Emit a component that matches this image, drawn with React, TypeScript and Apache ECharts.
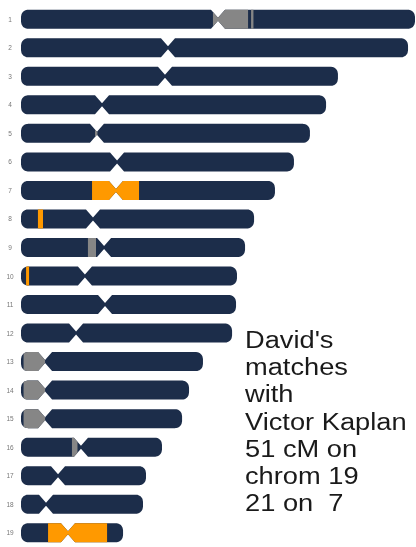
import React, { useEffect, useRef } from 'react';
import * as echarts from 'echarts';

// Chromosome names (rows, top to bottom)
const chromosomes = ['1', '2', '3', '4', '5', '6', '7', '8', '9', '10', '11', '12', '13', '14', '15', '16', '17', '18', '19'];
// Chromosome lengths (Mb)
const lengthsMb = [249.0, 244.6, 200.3, 192.8, 182.6, 172.5, 160.5, 147.3, 141.6, 136.5, 135.9, 133.4, 115.0, 106.2, 101.8, 89.1, 79.0, 77.1, 64.5];
// Centromere positions (Mb)
const centromeresMb = [124.5, 92.9, 91.0, 51.2, 48.0, 60.7, 60.0, 45.5, 52.5, 40.4, 53.1, 34.8, 15.2, 15.2, 15.2, 37.9, 23.4, 15.8, 29.7];
// Highlighted segments: chromosome, start Mb, end Mb, kind
const segChrom = ['1', '1', '5', '7', '8', '9', '10', '13', '14', '15', '16', '19'];
const segStart = [121.3, 145.4, 46.8, 44.9, 10.7, 42.3, 3.2, 1.6, 1.6, 1.6, 32.2, 17.1];
const segEnd = [143.5, 146.9, 48.3, 74.6, 13.9, 47.4, 5.1, 15.2, 15.2, 15.2, 35.7, 54.4];
const segKind = ['nodata', 'nodata', 'nodata', 'match', 'match', 'nodata', 'match', 'nodata', 'nodata', 'nodata', 'nodata', 'match'];
// Note text
const noteLines = ["David's", 'matches', 'with', 'Victor Kaplan', '51 cM on', 'chrom 19', '21 on  7'];

const NAVY = '#1c2d4a';
const KIND_COLORS: Record<string, string> = { match: '#ff9900', nodata: '#868686' };

const R = 9.5; // half bar height px
const CR = 7; // end corner radius px
const NW = 7; // notch half width px
const HMIN = 1.5; // notch min half height px

function buildPolygon(a: number, b: number, x0: number, x1: number, xc: number, cy: number) {
  const h = (x: number) => {
    let he = R;
    if (x < x0 + CR) {
      const d = Math.max(0, x - x0);
      he = R - CR + Math.sqrt(Math.max(0, CR * CR - (CR - d) * (CR - d)));
    } else if (x > x1 - CR) {
      const d = Math.max(0, x1 - x);
      he = R - CR + Math.sqrt(Math.max(0, CR * CR - (CR - d) * (CR - d)));
    }
    const dx = Math.abs(x - xc);
    if (dx < NW) {
      const hn = HMIN + (R - HMIN) * (dx / NW);
      he = Math.min(he, hn);
    }
    return he;
  };
  const xs: number[] = [];
  const add = (x: number) => {
    if (x >= a && x <= b) xs.push(x);
  };
  add(a);
  add(b);
  add(xc - NW);
  add(xc);
  add(xc + NW);
  add(x0 + CR);
  add(x1 - CR);
  for (let t = 0; t <= CR; t += 0.5) {
    add(x0 + t);
    add(x1 - t);
  }
  const sorted = Array.from(new Set(xs)).sort((p, q) => p - q);
  const top = sorted.map((x) => [x, cy - h(x)]);
  const bottom = sorted
    .slice()
    .reverse()
    .map((x) => [x, cy + h(x)]);
  return top.concat(bottom);
}

export default function App() {
  const ref = useRef<HTMLDivElement>(null);

  useEffect(() => {
    if (!ref.current) return;
    const chart = echarts.init(ref.current, null, { renderer: 'svg' });

    const chromData = chromosomes.map((c, i) => [i, lengthsMb[i], centromeresMb[i]]);
    const segData = segChrom.map((c, i) => [chromosomes.indexOf(c), segStart[i], segEnd[i], segKind[i]]);

    const textBase = 348;
    const pitch = 27.2;
    const fs = 23.5;

    chart.setOption({
      animation: false,
      grid: { left: 21, right: 1, top: 5, bottom: -5 },
      xAxis: { type: 'value', min: 0, max: 249, show: false },
      yAxis: {
        type: 'category',
        data: chromosomes,
        inverse: true,
        axisLine: { show: false },
        axisTick: { show: false },
        splitLine: { show: false },
        axisLabel: {
          margin: 11,
          align: 'center',
          fontSize: 6.5,
          color: '#777777',
          fontFamily: 'Liberation Sans',
        },
      },
      series: [
        {
          type: 'custom',
          data: chromData,
          encode: { x: [1, 2], y: 0 },
          renderItem: (params: any, api: any) => {
            const i = api.value(0);
            const len = api.value(1);
            const cen = api.value(2);
            const p0 = api.coord([0, i]);
            const p1 = api.coord([len, i]);
            const pc = api.coord([cen, i]);
            const pts = buildPolygon(p0[0], p1[0], p0[0], p1[0], pc[0], p0[1]);
            return { type: 'polygon', shape: { points: pts }, style: { fill: NAVY } };
          },
        },
        {
          type: 'custom',
          data: segData,
          encode: { x: [1, 2], y: 0 },
          renderItem: (params: any, api: any) => {
            const item = segData[params.dataIndex];
            const ci = item[0] as number;
            const p0 = api.coord([0, ci]);
            const p1 = api.coord([lengthsMb[ci], ci]);
            const pc = api.coord([centromeresMb[ci], ci]);
            const a = api.coord([item[1], ci])[0];
            const b = api.coord([item[2], ci])[0];
            const pts = buildPolygon(a, b, p0[0], p1[0], pc[0], p0[1]);
            return { type: 'polygon', shape: { points: pts }, style: { fill: KIND_COLORS[item[3] as string] } };
          },
        },
      ],
      graphic: noteLines.map((t, i) => ({
        type: 'text',
        x: 245,
        y: textBase + i * pitch - fs * 0.35,
        scaleX: 1.16,
        style: {
          text: t,
          fontSize: fs,
          fontFamily: 'Liberation Sans',
          fill: '#1a1a1a',
          verticalAlign: 'middle',
          align: 'left',
        },
      })),
    });

    return () => chart.dispose();
  }, []);

  return <div ref={ref} style={{ position: 'fixed', left: 0, top: 0, width: 416, height: 547 }} />;
}
